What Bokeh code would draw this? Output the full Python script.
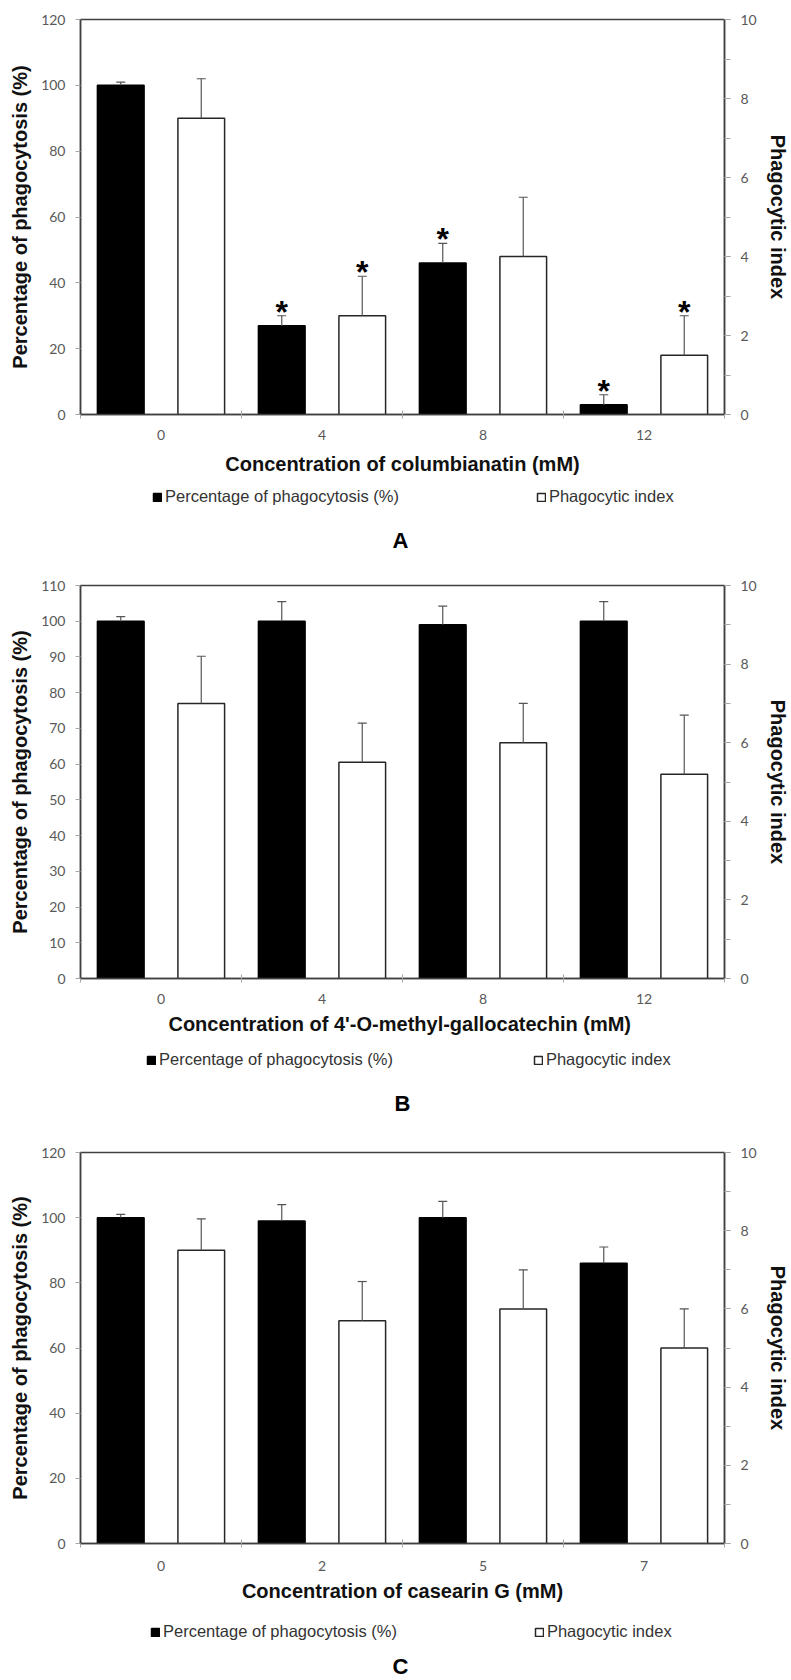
import numpy as np
from bokeh.plotting import figure
from bokeh.models import (Range1d, LinearAxis, FixedTicker, SingleIntervalTicker,
                          ColumnDataSource, Legend, LegendItem, Label)
from bokeh.layouts import column
from bokeh.embed import file_html
from bokeh.resources import INLINE
from bokeh.core.properties import value

# ---------------- data ----------------
# Panel A: columbianatin
conc_a = ["0", "4", "8", "12"]
pct_a = [100, 27, 46, 3]
pct_err_a = [1, 3, 6, 3]
idx_a = [7.5, 2.5, 4.0, 1.5]
idx_err_a = [1.0, 1.0, 1.5, 1.0]
sig_pct_a = [False, True, True, True]
sig_idx_a = [False, True, False, True]

# Panel B: 4'-O-methyl-gallocatechin
conc_b = ["0", "4", "8", "12"]
pct_b = [100, 100, 99, 100]
pct_err_b = [1.3, 5.5, 5.2, 5.5]
idx_b = [7.0, 5.5, 6.0, 5.2]
idx_err_b = [1.2, 1.0, 1.0, 1.5]
sig_pct_b = [False, False, False, False]
sig_idx_b = [False, False, False, False]

# Panel C: casearin G
conc_c = ["0", "2", "5", "7"]
pct_c = [100, 99, 100, 86]
pct_err_c = [1, 5, 5, 5]
idx_c = [7.5, 5.7, 6.0, 5.0]
idx_err_c = [0.8, 1.0, 1.0, 1.0]
sig_pct_c = [False, False, False, False]
sig_idx_c = [False, False, False, False]

legend_pct = "Percentage of phagocytosis (%)"
legend_idx = "Phagocytic index"
ylabel_left = "Percentage of phagocytosis (%)"
ylabel_right = "Phagocytic index"

TITLE_FONT = "Liberation Sans"
TICK_FONT = "Lato"
AXIS_COL = "#404040"
TICK_COL = "#a6a6a6"
TICKLAB_COL = "#595959"
ERR_COL = "#555555"

# frame borders shared by all panels (the column aligns the plot frames)
BORDER_L = 80
BORDER_R = 67


def style_title(ax, size="20px"):
    ax.axis_label_text_font = TITLE_FONT
    ax.axis_label_text_font_style = "bold"
    ax.axis_label_text_font_size = size
    ax.axis_label_text_color = "#111111"


def style_ticklabels(ax):
    ax.major_label_text_font = TICK_FONT
    ax.major_label_text_font_size = "14px"
    ax.major_label_text_color = TICKLAB_COL
    ax.axis_line_color = AXIS_COL
    ax.axis_line_width = 1.5


def make_panel(conc, pct, pct_err, idx, idx_err, sig_pct, sig_idx,
               left_max, left_step, xlabel, letter, geo):
    n = len(conc)
    centers = np.arange(n) + 0.5
    p = figure(width=791, height=geo["h"], output_backend="svg", toolbar_location=None,
               x_range=Range1d(0, n), y_range=Range1d(0, left_max),
               min_border_left=BORDER_L, min_border_right=BORDER_R,
               min_border_top=geo["t"], min_border_bottom=geo["b"],
               background_fill_color="white", border_fill_color="white")
    p.extra_y_ranges = {"right": Range1d(0, 10)}
    p.grid.visible = False
    p.outline_line_color = AXIS_COL
    p.outline_line_width = 1.5

    # bars
    src_b = ColumnDataSource(dict(x=centers - 0.25, top=pct,
                                  up=np.array(pct) + np.array(pct_err)))
    src_w = ColumnDataSource(dict(x=centers + 0.25, top=idx,
                                  up=np.array(idx) + np.array(idx_err)))
    p.vbar(x="x", top="top", bottom=0, width=0.29, source=src_b,
           fill_color="black", line_color="black", line_width=1.5)
    p.vbar(x="x", top="top", bottom=0, width=0.29, source=src_w,
           fill_color="white", line_color="#262626", line_width=1.5,
           y_range_name="right")
    # error bars
    p.segment(x0="x", y0="top", x1="x", y1="up", source=src_b,
              line_color=ERR_COL, line_width=1.2)
    p.scatter(x="x", y="up", source=src_b, marker="dash", size=9,
              line_color=ERR_COL, line_width=1.2)
    p.segment(x0="x", y0="top", x1="x", y1="up", source=src_w,
              line_color=ERR_COL, line_width=1.2, y_range_name="right")
    p.scatter(x="x", y="up", source=src_w, marker="dash", size=9,
              line_color=ERR_COL, line_width=1.2, y_range_name="right")

    # significance stars
    sb = [i for i in range(n) if sig_pct[i]]
    sw = [i for i in range(n) if sig_idx[i]]
    star_kw = dict(text_font=value(TITLE_FONT), text_font_style="bold",
                   text_font_size="32px", text_align="center",
                   text_baseline="alphabetic", y_offset=-4, text_color="black")
    if sb:
        p.text(x=[src_b.data["x"][i] for i in sb], y=[src_b.data["up"][i] for i in sb],
               text=["*"] * len(sb), **star_kw)
    if sw:
        p.text(x=[src_w.data["x"][i] for i in sw], y=[src_w.data["up"][i] for i in sw],
               text=["*"] * len(sw), y_range_name="right", **star_kw)

    # x axis
    xa = p.xaxis[0]
    xa.ticker = FixedTicker(ticks=list(centers), minor_ticks=list(range(n + 1)))
    xa.major_label_overrides = {float(c): lab for c, lab in zip(centers, conc)}
    xa.major_tick_in = 0
    xa.major_tick_out = 0
    xa.minor_tick_in = 4
    xa.minor_tick_out = 4
    xa.minor_tick_line_color = TICK_COL
    style_ticklabels(xa)
    xa.major_label_standoff = geo["xls"]
    xa.axis_label = xlabel
    style_title(xa)
    xa.axis_label_standoff = geo["xas"]

    # left y axis
    ya = p.yaxis[0]
    ya.ticker = SingleIntervalTicker(interval=left_step, num_minor_ticks=0)
    ya.major_tick_in = 0
    ya.major_tick_out = 5
    ya.major_tick_line_color = TICK_COL
    ya.minor_tick_line_color = None
    style_ticklabels(ya)
    ya.major_label_standoff = 10
    ya.axis_label = ylabel_left
    style_title(ya)
    ya.axis_label_standoff = 7

    # right y axis
    ra = LinearAxis(y_range_name="right",
                    ticker=SingleIntervalTicker(interval=2, num_minor_ticks=2))
    ra.major_tick_in = 0
    ra.major_tick_out = 6
    ra.minor_tick_in = 0
    ra.minor_tick_out = 6
    ra.major_tick_line_color = TICK_COL
    ra.minor_tick_line_color = TICK_COL
    style_ticklabels(ra)
    ra.major_label_standoff = 10
    ra.axis_label = ylabel_right
    style_title(ra)
    ra.axis_label_standoff = 7
    p.add_layout(ra, "right")

    # legend + panel letter strip (positions are relative to the strip's frame)
    lf = figure(width=791, height=geo["lh"], output_backend="svg", toolbar_location=None,
                x_range=Range1d(0, 791 - BORDER_L - BORDER_R), y_range=Range1d(0, geo["lh"]),
                x_axis_type=None, y_axis_type=None,
                min_border_left=BORDER_L, min_border_right=BORDER_R,
                min_border_top=0, min_border_bottom=0,
                background_fill_color="white", border_fill_color="white")
    lf.grid.visible = False
    lf.outline_line_color = None
    dummy = ColumnDataSource(dict(x=[float("nan")], top=[float("nan")]))
    rb = lf.vbar(x="x", top="top", width=1, source=dummy, fill_color="black",
                 line_color="black", line_width=1.5)
    rw = lf.vbar(x="x", top="top", width=1, source=dummy, fill_color="white",
                 line_color="#262626", line_width=1.5)
    leg = Legend(items=[LegendItem(label=legend_pct, renderers=[rb]),
                        LegendItem(label=legend_idx, renderers=[rw])],
                 orientation="horizontal", location=geo["leg"], spacing=geo["sp"],
                 glyph_width=10, glyph_height=10, label_standoff=3,
                 label_height=10, padding=0, margin=0, border_line_color=None,
                 background_fill_alpha=0, label_text_font=TITLE_FONT,
                 label_text_font_size="16.5px", label_text_color="#333333")
    lf.add_layout(leg)
    lf.add_layout(Label(x=geo["let"][0], y=geo["let"][1], x_units="screen", y_units="screen",
                        text=letter, text_align="center", text_baseline="middle",
                        text_font=TITLE_FONT, text_font_style="bold",
                        text_font_size="22px", text_color="black"))
    return p, lf


# geometry (pixels): chart height/borders, strip height, legend and letter position
geo_a = dict(h=480, t=19, b=66, xls=11, xas=10,
             lh=80, leg=(72, 54), sp=137, let=(320, 20))
geo_b = dict(h=480, t=25, b=62, xls=11, xas=6,
             lh=88, leg=(66, 59), sp=140, let=(322, 25))
geo_c = dict(h=477, t=24, b=62, xls=13, xas=6,
             lh=75, leg=(70, 39), sp=137, let=(320, 14))

pa, la = make_panel(conc_a, pct_a, pct_err_a, idx_a, idx_err_a, sig_pct_a, sig_idx_a,
                    120, 20, "Concentration of columbianatin (mM)", "A", geo_a)
pb, lb = make_panel(conc_b, pct_b, pct_err_b, idx_b, idx_err_b, sig_pct_b, sig_idx_b,
                    110, 10, "Concentration of 4'-O-methyl-gallocatechin  (mM)", "B", geo_b)
pc, lc = make_panel(conc_c, pct_c, pct_err_c, idx_c, idx_err_c, sig_pct_c, sig_idx_c,
                    120, 20, "Concentration of casearin G (mM)", "C", geo_c)

layout = column(pa, la, pb, lb, pc, lc, spacing=0)
open("out.html", "w").write(file_html(layout, INLINE))
